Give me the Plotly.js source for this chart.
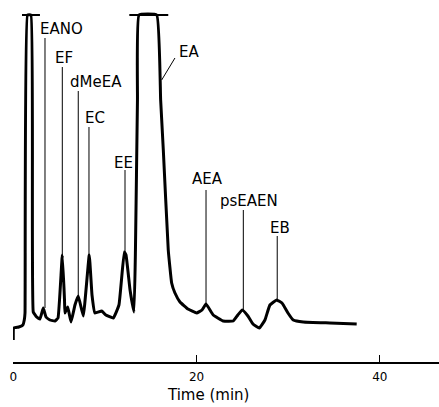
<!DOCTYPE html>
<html>
<head>
<meta charset="utf-8">
<script src="https://cdn.plot.ly/plotly-3.0.1.min.js"></script>
<style>html,body{margin:0;padding:0;background:#fff;}#chart{width:439px;height:407px;}</style>
</head>
<body>
<div id="chart"></div>
<script>
// Chromatogram trace: retention time (min) and detector response (arbitrary units)
const timeMin = [0, 0.05, 0.6, 1.05, 1.2, 1.28, 1.55, 1.93, 2.18, 2.55, 2.91, 3.27, 3.57, 4.0, 4.55, 4.88,
  5.35, 5.59, 5.64, 5.94, 6.30, 6.73, 7.09, 7.64, 8.29, 8.59, 8.91, 9.65, 10.1, 10.91, 11.53,
  12.11, 12.3, 12.74, 13.17, 13.33, 13.55, 13.72, 15.65, 16.08, 16.37, 16.91, 17.28, 17.64,
  18.19, 19.06, 20.01, 20.59, 21.03, 21.82, 22.91, 24.0, 24.5, 24.99, 25.6, 26.15, 26.84,
  27.46, 28.0, 28.74, 29.32, 29.97, 30.55, 31.64, 34.55, 37.47];
const response = [0, 12, 13, 15, 20, 27, 325, 325, 28, 23, 21, 32, 23, 20, 19, 22,
  85, 40, 27, 33, 18, 35, 44, 24, 85, 45, 27, 29, 25, 22, 35,
  88, 85, 50, 28, 90, 240, 325, 325, 240, 190, 90, 57, 47,
  38, 31, 27, 30, 36, 25, 19, 19, 25, 30, 24, 16, 12,
  20, 35, 40, 37, 27, 20, 18, 17, 16];

// Off-scale (pen limit) caps: start / end time
const capStart = [0.95, 12.66];
const capEnd = [2.91, 16.91];
const penLimit = 325;

// Peak identifications
const peakNames = ["EANO", "EF", "dMeEA", "EC", "EE", "AEA", "psEAEN", "EB"];
const peakTimes = [3.46, 5.35, 7.09, 8.26, 12.19, 21.03, 25.1, 28.8];
const peakTops = [32, 85, 44, 85, 88, 36, 30, 40];

// Label placement (layout)
const labelLineTop = [302, 273, 249, 213, 170, 150, 130, 104];
const labelX = [2.69, 4.33, 5.97, 7.6, 10.77, 19.27, 22.33, 27.79];
const labelY = [311, 282, 258, 222, 177, 161, 139, 112];
// EA label with oblique leader
const eaLabel = {name: "EA", x: 17.86, y: 288, lead: [[17.64, 282], [16.19, 260]]};

const capX = [], capY = [];
for (let i = 0; i < capStart.length; i++) {
  capX.push(capStart[i], capEnd[i], null);
  capY.push(penLimit, penLimit, null);
}
const leadX = [], leadY = [];
for (let i = 0; i < peakNames.length; i++) {
  leadX.push(peakTimes[i], peakTimes[i], null);
  leadY.push(labelLineTop[i], peakTops[i], null);
}
leadX.push(eaLabel.lead[0][0], eaLabel.lead[1][0], null);
leadY.push(eaLabel.lead[0][1], eaLabel.lead[1][1], null);

const traces = [
  {x: leadX, y: leadY, mode: "lines", line: {color: "#000", width: 1}, hoverinfo: "skip", showlegend: false},
  {x: timeMin, y: response, mode: "lines", line: {color: "#000", width: 3, shape: "spline", smoothing: 0.3}, showlegend: false},
  {x: capX, y: capY, mode: "lines", line: {color: "#000", width: 2}, hoverinfo: "skip", showlegend: false}
];

const annotations = peakNames.map((n, i) => ({
  text: n, x: labelX[i], y: labelY[i], xref: "x", yref: "y",
  xanchor: "left", yanchor: "middle", showarrow: false,
  font: {family: "DejaVu Sans", size: 15, color: "#000"}
}));
annotations.push({text: eaLabel.name, x: eaLabel.x, y: eaLabel.y, xref: "x", yref: "y",
  xanchor: "left", yanchor: "middle", showarrow: false,
  font: {family: "DejaVu Sans", size: 15, color: "#000"}});
annotations.push({text: "Time (min)", x: 0.458, y: -0.094, xref: "paper", yref: "paper",
  xanchor: "center", yanchor: "middle", showarrow: false,
  font: {family: "DejaVu Sans", size: 15, color: "#000"}});

const layout = {
  width: 439, height: 407,
  margin: {l: 13, r: 0, t: 10, b: 45},
  paper_bgcolor: "#fff", plot_bgcolor: "#fff",
  showlegend: false,
  xaxis: {
    range: [-0.03, 46.45], tickvals: [0, 20, 40], ticktext: ["0", "20", "40"],
    ticks: "inside", ticklen: 7, tickwidth: 1, tickcolor: "#000",
    showline: true, linecolor: "#000", linewidth: 1.5,
    showgrid: false, zeroline: false,
    tickfont: {family: "DejaVu Sans", size: 12, color: "#000"},
    ticklabelstandoff: 3
  },
  yaxis: {range: [-22, 330], visible: false, showgrid: false, zeroline: false},
  annotations: annotations
};

Plotly.newPlot("chart", traces, layout, {displayModeBar: false, staticPlot: true});
</script>
</body>
</html>
